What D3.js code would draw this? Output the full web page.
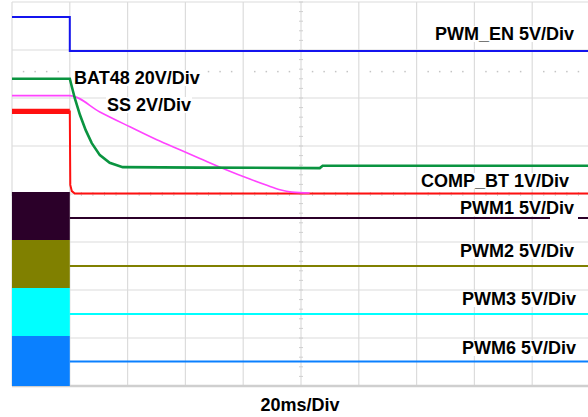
<!DOCTYPE html>
<html>
<head>
<meta charset="utf-8">
<script src="https://cdn.jsdelivr.net/npm/d3@7"></script>
<style>
  html, body { margin: 0; padding: 0; background: #ffffff; }
  svg { display: block; }
  text { font-family: "Liberation Sans", Arial, sans-serif; font-weight: bold; }
</style>
</head>
<body>
<script>
// ---- Data (time in ms, trigger at 0; amplitude in scope divisions, 0 = screen centre) ----
const timeDomain = [-20, 180];           // 10 divisions x 20 ms
const divDomain = [-4, 4];               // 8 vertical divisions

const pwmEnT = [-20, 0, 0, 180];
const pwmEnV = [3.69, 3.69, 2.98, 2.98];

const bat48T = [-20, 0, 1.7, 3.5, 5.5, 7.6, 10.4, 13.8, 18.3, 45, 86.5, 87.5, 180];
const bat48V = [2.40, 2.40, 2.00, 1.65, 1.33, 1.06, 0.81, 0.65, 0.56, 0.55, 0.54, 0.59, 0.59];

const ssT = [-20, 0, 10.4, 20.8, 30.1, 38.1, 45, 54.3, 62.3, 68.2, 72.7, 76.8, 83];
const ssV = [2.05, 2.05, 1.71, 1.40, 1.13, 0.92, 0.74, 0.50, 0.31, 0.18, 0.09, 0.04, 0.02];

const redT = [-20, 0, 0.17, 0.7, 1.7, 180];
const redV = [1.72, 1.72, 0.19, 0.06, 0.01, 0.01];
const redRipple = [0.055, 0.055, 0, 0, 0, 0];

const pwmNames = ["PWM1", "PWM2", "PWM3", "PWM6"];
const pwmPreHigh = [0.04, -0.96, -1.96, -2.96];
const pwmPreLow = [-0.96, -1.96, -2.96, -4.0];
const pwmPostLevel = [-0.50, -1.50, -2.50, -3.49];
const pwmSwitchEnd = 0;

const labelTexts = ["PWM_EN 5V/Div", "BAT48 20V/Div", "SS 2V/Div", "COMP_BT 1V/Div",
                    "PWM1 5V/Div", "PWM2 5V/Div", "PWM3 5V/Div", "PWM6 5V/Div"];
const axisTitle = "20ms/Div";

// ---- Layout / style ----
const W = 588, H = 417;
const plot = { left: 12, right: 590, top: 2, bottom: 386 };
const colors = {
  pwmEn: "#1414ee", bat48: "#0a9440", ss: "#ff44ff", red: "#ff1010",
  pwm: ["#2b0029", "#808000", "#00ffff", "#0a80ff"]
};
const labelPos = [[435, 40], [74, 84], [107, 111], [421, 187], [460, 214], [460, 257], [462, 305], [462, 354]];

const svg = d3.select("body").append("svg").attr("width", W).attr("height", H);

const x = d3.scaleLinear().domain(timeDomain).range([plot.left, plot.right]);
const y = d3.scaleLinear().domain(divDomain).range([plot.bottom, plot.top]);

// ---- Grid ----
const grid = svg.append("g");
const xDivs = d3.range(timeDomain[0], timeDomain[1] + 1, 20);
const yDivs = d3.range(divDomain[0], divDomain[1] + 1, 1);
grid.selectAll("line.v").data(xDivs).join("line")
  .attr("x1", d => x(d)).attr("x2", d => x(d))
  .attr("y1", y(divDomain[1])).attr("y2", y(divDomain[0]))
  .attr("stroke", "#dcdcdc").attr("stroke-width", 1.2);
grid.selectAll("line.h").data(yDivs).join("line")
  .attr("x1", x(timeDomain[0])).attr("x2", x(timeDomain[1]))
  .attr("y1", d => y(d)).attr("y2", d => y(d))
  .attr("stroke", d => d === divDomain[0] ? "#cfcfcf" : "#dcdcdc")
  .attr("stroke-width", d => d === divDomain[0] ? 2.5 : 1.2);

// minor ticks on the centre axes
const tCenter = (timeDomain[0] + timeDomain[1]) / 2;
const vTicks = d3.range(divDomain[0], divDomain[1] + 0.001, 0.2);
grid.selectAll("line.vt").data(vTicks).join("line")
  .attr("x1", x(tCenter) - 2).attr("x2", x(tCenter) + 2)
  .attr("y1", d => y(d)).attr("y2", d => y(d))
  .attr("stroke", "#cfcfcf").attr("stroke-width", 1);
const hTicks = d3.range(timeDomain[0], timeDomain[1] + 0.001, 4);
grid.selectAll("line.ht").data(hTicks).join("line")
  .attr("x1", d => x(d)).attr("x2", d => x(d))
  .attr("y1", y(0) - 2).attr("y2", y(0) + 2)
  .attr("stroke", "#cfcfcf").attr("stroke-width", 1);

// dotted reference row
const dotLevel = 2.55;
const dots = d3.range(timeDomain[0], timeDomain[1] + 0.001, 4).filter(t => Math.abs(((t - timeDomain[0]) / 20) % 1) > 0.01);
grid.selectAll("rect.dot").data(dots).join("rect")
  .attr("x", d => x(d) - 0.75).attr("y", y(dotLevel) - 0.75)
  .attr("width", 1.5).attr("height", 1.5).attr("fill", "#c4c4c4");

// ---- Traces ----
const line = d3.line().x(d => x(d[0])).y(d => y(d[1]));
const zip = (a, b) => a.map((t, i) => [t, b[i]]);

// PWM blocks + levels
pwmNames.forEach((name, i) => {
  const area = d3.area().x(d => x(d)).y0(y(pwmPreLow[i])).y1(y(pwmPreHigh[i]));
  svg.append("path").attr("d", area([timeDomain[0], pwmSwitchEnd]))
    .attr("fill", colors.pwm[i]);
  svg.append("path").attr("d", line([[pwmSwitchEnd, pwmPostLevel[i]], [timeDomain[1], pwmPostLevel[i]]]))
    .attr("fill", "none").attr("stroke", colors.pwm[i]).attr("stroke-width", 2.2);
});

// red trace (noise band before the event)
const redArea = d3.area().x(d => x(d.t)).y0(d => y(d.v - d.r)).y1(d => y(d.v + d.r));
svg.append("path")
  .attr("d", redArea(redT.map((t, i) => ({ t, v: redV[i], r: redRipple[i] })).filter(d => d.r > 0)))
  .attr("fill", colors.red);
svg.append("path").attr("d", line(zip(redT, redV)))
  .attr("fill", "none").attr("stroke", colors.red).attr("stroke-width", 2);

// SS
svg.append("path").attr("d", d3.line().curve(d3.curveMonotoneX).x(d => x(d[0])).y(d => y(d[1]))(zip(ssT, ssV)))
  .attr("fill", "none").attr("stroke", colors.ss).attr("stroke-width", 1.6);

// BAT48
svg.append("path").attr("d", line(zip(bat48T, bat48V)))
  .attr("fill", "none").attr("stroke", colors.bat48).attr("stroke-width", 2.6);

// PWM_EN
svg.append("path").attr("d", line(zip(pwmEnT, pwmEnV)))
  .attr("fill", "none").attr("stroke", colors.pwmEn).attr("stroke-width", 2);

// gap in PWM1 trace behind its label
svg.append("rect").attr("x", 550).attr("y", y(pwmPostLevel[0]) - 3).attr("width", 28).attr("height", 6).attr("fill", "#fff");

// ---- Labels ----
const lg = svg.append("g");
labelTexts.forEach((txt, i) => {
  const [lx, ly] = labelPos[i];
  const g = lg.append("g");
  const t = g.append("text").attr("x", lx).attr("y", ly).attr("font-size", 18).attr("fill", "#000").text(txt);
  const bb = t.node().getBBox();
  g.insert("rect", "text").attr("x", bb.x - 1).attr("y", ly - 14).attr("width", bb.width + 2).attr("height", 16).attr("fill", "#fff");
});

svg.append("text").attr("x", x(tCenter) - 1).attr("y", 411).attr("text-anchor", "middle")
  .attr("font-size", 18).attr("fill", "#000").text(axisTitle);
</script>
</body>
</html>
